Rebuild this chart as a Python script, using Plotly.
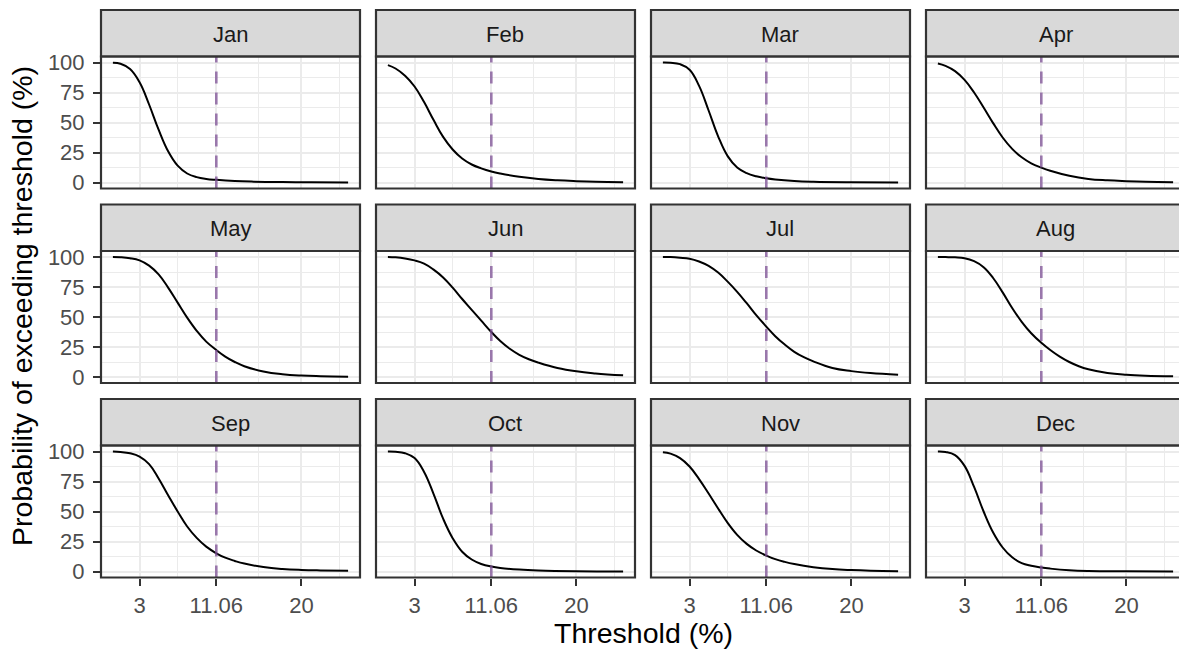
import plotly.graph_objects as go

# Monthly exceedance curves: threshold (%) and probability of exceeding it (%)
months = ["Jan", "Feb", "Mar", "Apr", "May", "Jun",
          "Jul", "Aug", "Sep", "Oct", "Nov", "Dec"]

thr_jan = [0.2, 1, 2, 3, 4, 5, 6, 7, 8, 9, 10, 11.06, 13, 15, 18, 21, 24.9]
prob_jan = [99.7, 98.9, 94.5, 83.5, 65, 44, 26, 14, 7.5, 4.5, 3.0, 2.2, 1.2, 0.7, 0.35, 0.2, 0.1]

thr_feb = [0.2, 1, 2, 3, 4, 5, 6, 7, 8, 9, 10, 11.06, 12, 14, 16, 18, 20, 22, 24.9]
prob_feb = [97.8, 95, 89, 80, 67, 52, 38, 27.5, 20, 15, 11.8, 9.2, 7.5, 4.7, 2.9, 1.8, 1.1, 0.6, 0.3]

thr_mar = [0.2, 1, 2, 3, 4, 5, 6, 7, 8, 9, 10, 11.06, 12, 14, 16, 20, 24.9]
prob_mar = [100, 99.8, 98.6, 94, 80.5, 60, 38.5, 22, 12.5, 7.8, 5.2, 3.5, 2.5, 1.2, 0.6, 0.2, 0.1]

thr_apr = [0.2, 1, 2, 3, 4, 5, 6, 7, 8, 9, 10, 11.06, 12, 14, 16, 18, 20, 22, 24.9]
prob_apr = [99.2, 97.2, 92.8, 85.5, 75, 62.5, 49.5, 37.5, 28, 21, 16, 12.4, 9.8, 5.6, 3.0, 1.8, 1.1, 0.6, 0.3]

thr_may = [0.2, 1, 2, 3, 4, 5, 6, 7, 8, 9, 10, 11.06, 12, 13, 14, 16, 18, 20, 22, 24.9]
prob_may = [100, 99.8, 99, 97.2, 92.8, 85.5, 74.5, 62, 49.5, 38.5, 29.5, 22.5, 17, 12.5, 9, 4.6, 2.3, 1.2, 0.7, 0.3]

thr_jun = [0.2, 1, 2, 3, 4, 5, 6, 7, 8, 9, 10, 11.06, 12, 13, 14, 15, 16, 18, 20, 22, 24.9]
prob_jun = [100, 99.7, 98.8, 97.2, 94.5, 89.5, 83, 74.5, 65, 56, 47, 37.5, 30, 23.5, 18.5, 14.8, 12, 7.5, 4.7, 3.0, 1.4]

thr_jul = [0.2, 1, 2, 3, 4, 5, 6, 7, 8, 9, 10, 11.06, 12, 13, 14, 15, 16, 18, 20, 22, 24.9]
prob_jul = [100, 99.9, 99.4, 98.6, 96.3, 92.6, 87, 79.5, 71, 61.5, 51.5, 42, 34, 27, 21, 16.5, 13, 7.5, 4.9, 3.3, 1.9]

thr_aug = [0.2, 1, 2, 3, 4, 5, 6, 7, 8, 9, 10, 11.06, 12, 13, 14, 15, 16, 18, 20, 22, 24.9]
prob_aug = [100, 99.9, 99.7, 99, 96.5, 91.5, 82.5, 70.5, 57.5, 46, 36.5, 28.5, 22.5, 17, 12.5, 9, 6.5, 3.4, 1.9, 1.1, 0.6]

thr_sep = [0.2, 1, 2, 3, 4, 5, 6, 7, 8, 9, 10, 11.06, 12, 13, 14, 16, 18, 20, 22, 24.9]
prob_sep = [100, 99.6, 98.5, 95.8, 89.5, 77.5, 63.5, 50, 37.5, 28, 20.7, 15.2, 11.5, 8.8, 6.6, 3.7, 2.1, 1.3, 0.9, 0.6]

thr_oct = [0.2, 1, 2, 3, 4, 5, 6, 7, 8, 9, 10, 11.06, 12, 14, 16, 20, 24.9]
prob_oct = [100, 99.8, 98.6, 94.5, 83, 64.5, 44, 27.8, 16.5, 10, 6.3, 4.1, 2.9, 1.6, 0.9, 0.3, 0.1]

thr_nov = [0.2, 1, 2, 3, 4, 5, 6, 7, 8, 9, 10, 11.06, 12, 13, 14, 16, 18, 20, 22, 24.9]
prob_nov = [99.4, 98.2, 94.5, 87.5, 77, 65, 52.5, 40.5, 30.5, 23, 17.5, 13.3, 10.3, 8, 6.2, 3.6, 2.0, 1.2, 0.7, 0.3]

thr_dec = [0.2, 1, 2, 3, 4, 5, 6, 7, 8, 9, 10, 11.06, 12, 14, 16, 20, 24.9]
prob_dec = [100, 99.6, 97, 88, 70.5, 50, 32.5, 20, 11.8, 7, 4.8, 3.3, 2.4, 1.1, 0.5, 0.2, 0.1]

thresholds = [thr_jan, thr_feb, thr_mar, thr_apr, thr_may, thr_jun,
              thr_jul, thr_aug, thr_sep, thr_oct, thr_nov, thr_dec]
probs = [prob_jan, prob_feb, prob_mar, prob_apr, prob_may, prob_jun,
         prob_jul, prob_aug, prob_sep, prob_oct, prob_nov, prob_dec]

ref_threshold = 11.06
x_breaks = [3, 11.06, 20]
x_labels = ["3", "11.06", "20"]
x_minor = [7.03, 15.53, 24.03]
y_breaks = [0, 25, 50, 75, 100]
y_labels = ["0", "25", "50", "75", "100"]
y_minor = [12.5, 37.5, 62.5, 87.5]

# ---- layout geometry (pixels) ----
W, H = 1179, 650
col_left = [101, 376, 651, 926]
panel_w = 259
strip_top = [10, 204.5, 399]
strip_h = 46.5
panel_h = 132
x_lim = [-1.05, 26.15]
y_lim = [-5, 105]

FONT = "Liberation Sans, Arial, sans-serif"
BORDER = "#333333"
GRID = "#EBEBEB"
TICKTXT = "#4D4D4D"


def px_x(p):
    return p / W


def px_y(p):
    return 1 - p / H


fig = go.Figure()
shapes = []
annotations = []
layout_axes = {}

for i, month in enumerate(months):
    r, c = divmod(i, 4)
    n = i + 1
    xa = "x" if n == 1 else f"x{n}"
    ya = "y" if n == 1 else f"y{n}"

    left = col_left[c]
    right = left + panel_w
    top = strip_top[r] + strip_h
    bottom = top + panel_h

    # the rightmost column runs past the page edge
    x_range = list(x_lim)
    dom_right = right
    if right > W:
        dom_right = W
        x_range[1] = x_lim[0] + (W - left) / panel_w * (x_lim[1] - x_lim[0])

    fig.add_trace(go.Scatter(
        x=thresholds[i], y=probs[i], mode="lines",
        line=dict(color="black", width=2, shape="spline", smoothing=1.2),
        xaxis=xa, yaxis=ya, hoverinfo="skip", showlegend=False,
    ))

    bottom_row = r == 2
    left_col = c == 0

    xkey = "xaxis" if n == 1 else f"xaxis{n}"
    ykey = "yaxis" if n == 1 else f"yaxis{n}"
    layout_axes[xkey] = dict(
        domain=[px_x(left), px_x(dom_right)], anchor=ya, range=x_range,
        tickmode="array", tickvals=x_breaks, ticktext=x_labels,
        showticklabels=bottom_row, automargin=False,
        ticks="outside" if bottom_row else "", ticklen=7, tickwidth=2,
        tickcolor=BORDER, ticklabelstandoff=1,
        tickfont=dict(family=FONT, size=22, color=TICKTXT),
        showgrid=True, gridcolor=GRID, gridwidth=2.4,
        minor=dict(tickmode="array", tickvals=x_minor, showgrid=True,
                   gridcolor=GRID, gridwidth=1.2, ticks=""),
        zeroline=False, showline=False, fixedrange=True,
    )
    layout_axes[ykey] = dict(
        domain=[px_y(bottom), px_y(top)], anchor=xa, range=y_lim,
        tickmode="array", tickvals=y_breaks, ticktext=y_labels,
        showticklabels=left_col, automargin=False,
        ticks="outside" if left_col else "", ticklen=7, tickwidth=2,
        tickcolor=BORDER, ticklabelstandoff=4,
        tickfont=dict(family=FONT, size=22, color=TICKTXT),
        showgrid=True, gridcolor=GRID, gridwidth=2.4,
        minor=dict(tickmode="array", tickvals=y_minor, showgrid=True,
                   gridcolor=GRID, gridwidth=1.2, ticks=""),
        zeroline=False, showline=False, fixedrange=True,
    )

    # reference threshold
    shapes.append(dict(
        type="line", xref=xa, yref=f"{ya} domain",
        x0=ref_threshold, x1=ref_threshold, y0=0, y1=1,
        line=dict(color="rgba(125, 80, 150, 0.75)", width=2.6, dash="12px,9px"),
        layer="above",
    ))
    # strip
    shapes.append(dict(
        type="rect", xref="paper", yref="paper",
        x0=px_x(left), x1=px_x(right), y0=px_y(top), y1=px_y(strip_top[r]),
        fillcolor="#D9D9D9", line=dict(color=BORDER, width=2.2), layer="above",
    ))
    # panel border
    shapes.append(dict(
        type="rect", xref="paper", yref="paper",
        x0=px_x(left), x1=px_x(right), y0=px_y(bottom), y1=px_y(top),
        fillcolor="rgba(0,0,0,0)", line=dict(color=BORDER, width=2.2), layer="above",
    ))
    annotations.append(dict(
        text=month, xref="paper", yref="paper",
        x=px_x(left + panel_w / 2), y=px_y(strip_top[r] + strip_h / 2 + 1),
        xanchor="center", yanchor="middle", showarrow=False,
        font=dict(family=FONT, size=22, color="#1A1A1A"),
    ))

annotations.append(dict(
    text="Threshold (%)", xref="paper", yref="paper",
    x=px_x(643), y=px_y(615), xanchor="center", yanchor="top",
    showarrow=False, font=dict(family=FONT, size=28.5, color="black"),
))
annotations.append(dict(
    text="Probability of exceeding threshold (%)", xref="paper", yref="paper",
    x=px_x(22), y=px_y(306), xanchor="center", yanchor="middle", textangle=-90,
    showarrow=False, font=dict(family=FONT, size=28.5, color="black"),
))

fig.update_layout(
    width=W, height=H,
    margin=dict(l=0, r=0, t=0, b=0, pad=0, autoexpand=False),
    paper_bgcolor="white", plot_bgcolor="white",
    showlegend=False, hovermode=False,
    shapes=shapes, annotations=annotations,
    **layout_axes,
)

fig.write_html("out.html", config={"displayModeBar": False})
